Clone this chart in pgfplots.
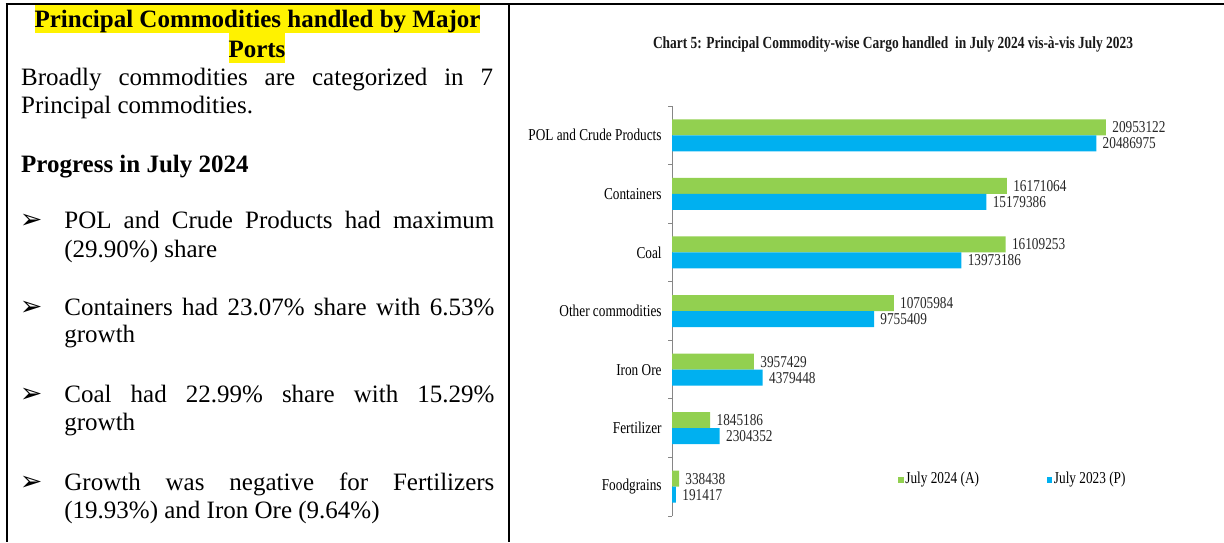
\documentclass[border=0pt]{standalone}
\usepackage{fontspec}
\setmainfont{Liberation Serif}
\newfontfamily\chartfont[FakeStretch=0.8]{Liberation Serif}
\newfontfamily\dejavu{DejaVu Sans}
\usepackage{graphicx}
\usepackage{pgfplots}
\pgfplotsset{compat=1.18}
\usepackage{pgfplotstable}
\definecolor{xgreen}{RGB}{146,208,80}
\definecolor{xblue}{RGB}{0,176,240}
\definecolor{axgray}{RGB}{134,134,134}
\newcommand\bodyfont{\fontsize{12.5}{14.4}\selectfont}
\newcommand\cf{\chartfont\fontsize{8.3}{10}\selectfont}
\pgfplotstableread{
y green blue
0 338438 191417
1 1845186 2304352
2 3957429 4379448
3 10705984 9755409
4 16109253 13973186
5 16171064 15179386
6 20953122 20486975
}\cargo
\begin{document}
\begin{tikzpicture}[x=0.5pt,y=-0.5pt]
\path[use as bounding box] (0,0) rectangle (1224,542);
% table borders
\draw[line width=1pt] (5.7,4.3) -- (1224,4.3);
\draw[line width=1pt] (6.7,3.8) -- (6.7,542);
\draw[line width=1pt] (509,3.8) -- (509,542);
% heading
\node[fill=yellow, inner sep=0pt, text height=11pt, text depth=3pt, anchor=base, font=\bodyfont\bfseries] at (257.5,27) {Principal Commodities handled by Major};
\node[fill=yellow, inner sep=0pt, text height=12pt, text depth=3pt, anchor=base, font=\bodyfont\bfseries] at (257,57) {Ports};
% body
\begin{scope}[every node/.style={anchor=base west, inner sep=0pt, font=\bodyfont}]
\node at (20.7,85) {\makebox[236pt][s]{Broadly commodities are categorized in 7}};
\node at (20.7,113) {Principal commodities.};
\node[font=\bodyfont\bfseries] at (20.7,172) {Progress in July 2024};
\foreach \yy in {228,315,402,490} {\node[font=\dejavu\bfseries\fontsize{13.5}{14}\selectfont] at (19.5,\yy) {➢};}
\node at (64,228) {\makebox[215pt][s]{POL and Crude Products had maximum}};
\node at (64,257) {(29.90\%) share};
\node at (64,315) {\makebox[215pt][s]{Containers had 23.07\% share with 6.53\%}};
\node at (64,342) {growth};
\node at (64,402) {\makebox[215pt][s]{Coal had 22.99\% share with 15.29\%}};
\node at (64,430) {growth};
\node at (64,490) {\makebox[215pt][s]{Growth was negative for Fertilizers}};
\node at (64,518) {(19.93\%) and Iron Ore (9.64\%)};
\end{scope}
% chart title
\node[anchor=base, inner sep=0pt, text=black!90] at (893,48) {\resizebox{240pt}{\height}{\fontsize{8.5}{10}\selectfont\bfseries Chart 5: Principal Commodity-wise Cargo handled\ \ in July 2024 vis-à-vis July 2023}};
\begin{axis}[
  at={(336pt,-258pt)}, anchor=south west,
  scale only axis, width=258.9pt, height=205pt,
  xmin=0, xmax=25000000, ymin=-0.5, ymax=6.5,
  axis x line=none, axis y line*=left,
  axis line style={axgray, line width=0.5pt},
  ytick={0,...,6},
  yticklabels={Foodgrains,Fertilizer,Iron Ore,Other commodities,Coal,Containers,POL and Crude Products},
  minor ytick={-0.5,0.5,...,6.5},
  major tick length=0pt, minor tick length=2pt, tick align=outside,
  tick style={axgray, line width=0.5pt},
  yticklabel style={font=\cf, text=black, inner sep=0pt, xshift=-5pt},
  clip=false,
  xbar, bar width=8pt,
  nodes near coords, point meta=explicit symbolic,
  every node near coord/.append style={font=\cf, text=black!85, inner sep=0pt, anchor=west, xshift=3pt},
  legend columns=2,
  legend image code/.code={\fill[#1] (0pt,-1.5pt) rectangle (2.8pt,1.5pt);},
  legend style={draw=none, fill=none, at={(axis cs:10900000,0.12)}, anchor=west, font=\cf, inner sep=0pt,
    nodes={inner sep=0.8pt}, /tikz/every even column/.append style={column sep=33pt}},
]
\addplot[fill=xgreen, draw=none, bar shift=4pt] table[x=green, y=y, meta=green] {\cargo};
\addplot[fill=xblue, draw=none, bar shift=-4pt] table[x=blue, y=y, meta=blue] {\cargo};
\legend{July 2024 (A), July 2023 (P)}
\end{axis}
\end{tikzpicture}
\end{document}
